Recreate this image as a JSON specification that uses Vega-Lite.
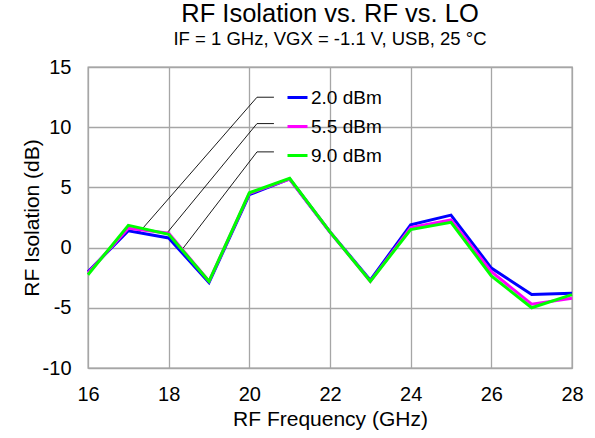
{
  "$schema": "https://vega.github.io/schema/vega-lite/v6.json",
  "width": 484,
  "height": 301,
  "autosize": {"type": "none"},
  "padding": {"left": 88, "top": 67, "right": 23, "bottom": 70},
  "background": "white",
  "config": {
    "font": "Liberation Sans",
    "view": {"stroke": "#999999", "strokeWidth": 1.3},
    "axis": {"gridColor": "#A6A6A6", "gridWidth": 1.3, "domain": false, "ticks": false, "labelFontSize": 20, "labelColor": "#000", "titleFontSize": 21, "titleFontWeight": "normal", "titleColor": "#000", "labelFlush": false, "labelOverlap": false}
  },
  "title": {
    "text": "RF Isolation vs. RF vs. LO",
    "subtitle": "IF = 1 GHz, VGX = -1.1 V, USB, 25 °C",
    "fontSize": 25.5,
    "fontWeight": "normal",
    "subtitleFontSize": 18.5,
    "subtitleColor": "#000",
    "color": "#000",
    "anchor": "middle",
    "frame": "group",
    "offset": 9,
    "subtitlePadding": 2
  },
  "datasets": {
    "curves": [
      {"f": 16, "p": "2.0 dBm", "v": -2.0}, {"f": 17, "p": "2.0 dBm", "v": 1.4}, {"f": 18, "p": "2.0 dBm", "v": 0.8}, {"f": 19, "p": "2.0 dBm", "v": -2.9}, {"f": 20, "p": "2.0 dBm", "v": 4.4}, {"f": 21, "p": "2.0 dBm", "v": 5.7}, {"f": 22, "p": "2.0 dBm", "v": 1.3}, {"f": 23, "p": "2.0 dBm", "v": -2.7}, {"f": 24, "p": "2.0 dBm", "v": 1.9}, {"f": 25, "p": "2.0 dBm", "v": 2.7}, {"f": 26, "p": "2.0 dBm", "v": -1.7}, {"f": 27, "p": "2.0 dBm", "v": -3.9}, {"f": 28, "p": "2.0 dBm", "v": -3.8},
      {"f": 16, "p": "5.5 dBm", "v": -2.1}, {"f": 17, "p": "5.5 dBm", "v": 1.6}, {"f": 18, "p": "5.5 dBm", "v": 1.2}, {"f": 19, "p": "5.5 dBm", "v": -2.8}, {"f": 20, "p": "5.5 dBm", "v": 4.5}, {"f": 21, "p": "5.5 dBm", "v": 5.7}, {"f": 22, "p": "5.5 dBm", "v": 1.3}, {"f": 23, "p": "5.5 dBm", "v": -2.8}, {"f": 24, "p": "5.5 dBm", "v": 1.65}, {"f": 25, "p": "5.5 dBm", "v": 2.3}, {"f": 26, "p": "5.5 dBm", "v": -2.0}, {"f": 27, "p": "5.5 dBm", "v": -4.7}, {"f": 28, "p": "5.5 dBm", "v": -4.2},
      {"f": 16, "p": "9.0 dBm", "v": -2.25}, {"f": 17, "p": "9.0 dBm", "v": 1.85}, {"f": 18, "p": "9.0 dBm", "v": 1.1}, {"f": 19, "p": "9.0 dBm", "v": -2.8}, {"f": 20, "p": "9.0 dBm", "v": 4.55}, {"f": 21, "p": "9.0 dBm", "v": 5.75}, {"f": 22, "p": "9.0 dBm", "v": 1.3}, {"f": 23, "p": "9.0 dBm", "v": -2.8}, {"f": 24, "p": "9.0 dBm", "v": 1.5}, {"f": 25, "p": "9.0 dBm", "v": 2.1}, {"f": 26, "p": "9.0 dBm", "v": -2.35}, {"f": 27, "p": "9.0 dBm", "v": -5.0}, {"f": 28, "p": "9.0 dBm", "v": -3.9}
    ],
    "leaders": [
      {"id": "a", "k": 0, "x": 17.24, "y": 1.15}, {"id": "a", "k": 1, "x": 20.19, "y": 12.49}, {"id": "a", "k": 2, "x": 20.61, "y": 12.49},
      {"id": "b", "k": 0, "x": 17.97, "y": 1.26}, {"id": "b", "k": 1, "x": 20.19, "y": 10.3}, {"id": "b", "k": 2, "x": 20.61, "y": 10.3},
      {"id": "c", "k": 0, "x": 18.36, "y": -0.04}, {"id": "c", "k": 1, "x": 20.19, "y": 7.95}, {"id": "c", "k": 2, "x": 20.61, "y": 7.95}
    ]
  },
  "layer": [
    {
      "data": {"name": "leaders"},
      "mark": {"type": "line", "color": "#000000", "strokeWidth": 0.9},
      "encoding": {
        "x": {"field": "x", "type": "quantitative", "scale": {"domain": [16, 28]}},
        "y": {"field": "y", "type": "quantitative", "scale": {"domain": [-10, 15]}},
        "detail": {"field": "id"},
        "order": {"field": "k"}
      }
    },
    {
      "data": {"name": "curves"},
      "mark": {"type": "line", "strokeWidth": 3},
      "encoding": {
        "x": {"field": "f", "type": "quantitative", "scale": {"domain": [16, 28], "nice": false}, "axis": {"values": [16, 18, 20, 22, 24, 26, 28], "title": "RF Frequency (GHz)", "labelPadding": 16, "titlePadding": 4}},
        "y": {"field": "v", "type": "quantitative", "scale": {"domain": [-10, 15], "nice": false}, "axis": {"values": [-10, -5, 0, 5, 10, 15], "labelExpr": "replace(format(datum.value, 'd'), '−', '-')", "title": "RF Isolation (dB)", "labelPadding": 17, "titlePadding": 0}},
        "color": {
          "field": "p", "type": "nominal",
          "scale": {"domain": ["2.0 dBm", "5.5 dBm", "9.0 dBm"], "range": ["#0000FF", "#FF00FF", "#00FF00"]},
          "legend": {"title": null, "orient": "none", "legendX": 198, "legendY": 19, "symbolType": "stroke", "symbolSize": 400, "symbolStrokeWidth": 3, "labelFontSize": 19, "labelColor": "#000", "labelOffset": 2, "rowPadding": 7, "padding": 0}
        }
      }
    }
  ]
}
